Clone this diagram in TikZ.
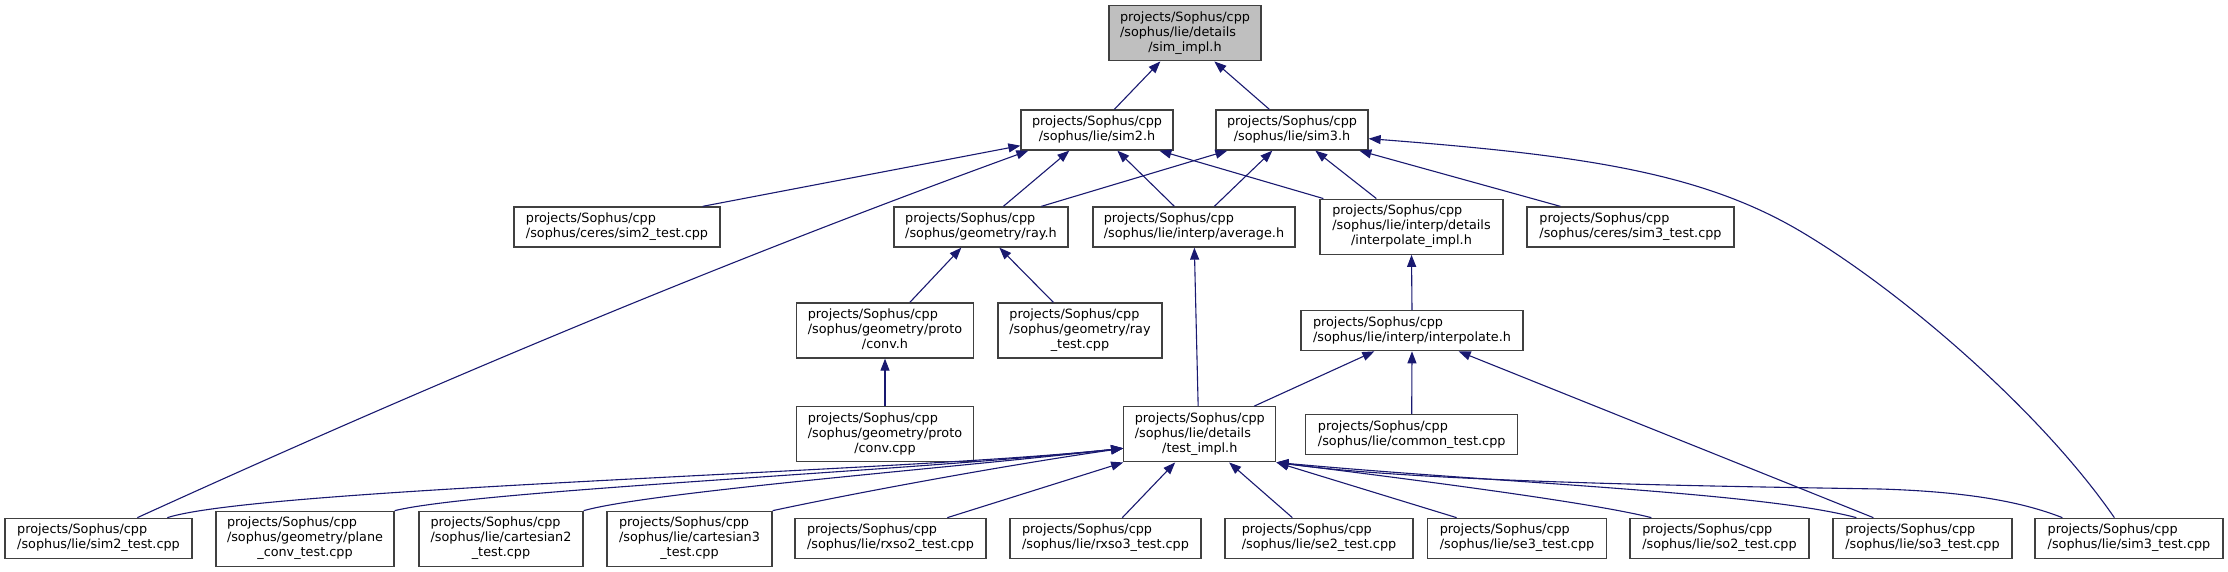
\documentclass[tikz,border=0pt]{standalone}
\usepackage{fontspec}
\setmainfont{DejaVu Sans}
\usetikzlibrary{arrows.meta}
\definecolor{edgec}{HTML}{191970}
\definecolor{boxc}{HTML}{404040}
\definecolor{rootc}{HTML}{BFBFBF}
\newcommand{\NodeTwo}[2]{\begin{tabular}{@{}l@{}}#1\\\multicolumn{1}{@{}c@{}}{#2}\end{tabular}}
\newcommand{\NodeThree}[3]{\begin{tabular}{@{}l@{}}#1\\#2\\\multicolumn{1}{@{}c@{}}{#3}\end{tabular}}
\newcommand{\SP}{projects/Sophus/cpp}
\newcommand{\U}{\textunderscore}
\begin{document}
\begin{tikzpicture}[x=1pt,y=-1pt,
  box/.style={draw=boxc, line width=1.3pt, fill=white, inner sep=0pt, minimum height=40pt,
    font=\fontsize{12.8}{15}\selectfont, align=center},
  boxthree/.style={box, minimum height=55pt},
  edge/.style={draw=edgec, line width=1.1pt, -{Triangle[length=12pt,width=9pt]}}]
\useasboundingbox (0,0) rectangle (2228,572);
% row 0
\node[boxthree, fill=rootc, minimum width=152pt] (root) at (1185,33.3) {\NodeThree{\SP}{/sophus/lie/details}{/sim\U impl.h}};
% row 1
\node[box, minimum width=152pt] (sim2) at (1097,130) {\NodeTwo{\SP}{/sophus/lie/sim2.h}};
\node[box, minimum width=152pt] (sim3) at (1292,130) {\NodeTwo{\SP}{/sophus/lie/sim3.h}};
% row 2
\node[box, minimum width=206pt] (ceres2) at (617,227) {\NodeTwo{\SP}{/sophus/ceres/sim2\U test.cpp}};
\node[box, minimum width=174pt] (ray) at (981,227) {\NodeTwo{\SP}{/sophus/geometry/ray.h}};
\node[box, minimum width=202pt] (avg) at (1194,227) {\NodeTwo{\SP}{/sophus/lie/interp/average.h}};
\node[boxthree, minimum width=183pt] (iimpl) at (1411.5,226.7) {\NodeThree{\SP}{/sophus/lie/interp/details}{/interpolate\U impl.h}};
\node[box, minimum width=207pt] (ceres3) at (1630.5,227) {\NodeTwo{\SP}{/sophus/ceres/sim3\U test.cpp}};
% row 3
\node[boxthree, minimum width=177pt] (convh) at (885,330.5) {\NodeThree{\SP}{/sophus/geometry/proto}{/conv.h}};
\node[boxthree, minimum width=164pt] (raytest) at (1080,330.5) {\NodeThree{\SP}{/sophus/geometry/ray}{\U test.cpp}};
\node[box, minimum width=222pt] (interp) at (1412,330.7) {\NodeTwo{\SP}{/sophus/lie/interp/interpolate.h}};
% row 4
\node[boxthree, minimum width=177pt] (convcpp) at (885,434.3) {\NodeThree{\SP}{/sophus/geometry/proto}{/conv.cpp}};
\node[boxthree, minimum width=152pt] (timpl) at (1199.8,434.3) {\NodeThree{\SP}{/sophus/lie/details}{/test\U impl.h}};
\node[box, minimum width=212pt] (common) at (1411.7,434.5) {\NodeTwo{\SP}{/sophus/lie/common\U test.cpp}};
% row 5
\node[box, minimum width=187pt] (sim2test) at (98.5,538.3) {\NodeTwo{\SP}{/sophus/lie/sim2\U test.cpp}};
\node[boxthree, minimum width=178pt] (plane) at (305,538.8) {\NodeThree{\SP}{/sophus/geometry/plane}{\U conv\U test.cpp}};
\node[boxthree, minimum width=164pt] (cart2) at (501,538.8) {\NodeThree{\SP}{/sophus/lie/cartesian2}{\U test.cpp}};
\node[boxthree, minimum width=165pt] (cart3) at (689.5,538.8) {\NodeThree{\SP}{/sophus/lie/cartesian3}{\U test.cpp}};
\node[box, minimum width=191pt] (rxso2) at (890.5,538.3) {\NodeTwo{\SP}{/sophus/lie/rxso2\U test.cpp}};
\node[box, minimum width=191pt] (rxso3) at (1105.5,538.3) {\NodeTwo{\SP}{/sophus/lie/rxso3\U test.cpp}};
\node[box, minimum width=188pt] (se2) at (1319,538.3) {\NodeTwo{\SP}{/sophus/lie/se2\U test.cpp}};
\node[box, minimum width=179.5pt] (se3) at (1517,538.3) {\NodeTwo{\SP}{/sophus/lie/se3\U test.cpp}};
\node[box, minimum width=179pt] (so2) at (1719.5,538.3) {\NodeTwo{\SP}{/sophus/lie/so2\U test.cpp}};
\node[box, minimum width=179pt] (so3) at (1922.5,538.3) {\NodeTwo{\SP}{/sophus/lie/so3\U test.cpp}};
\node[box, minimum width=188pt] (sim3test) at (2129,538.3) {\NodeTwo{\SP}{/sophus/lie/sim3\U test.cpp}};
% edges
\draw[edge] ([xshift=94pt]sim2.north west) -- ([xshift=52pt]root.south west);
\draw[edge] ([xshift=54pt]sim3.north west) -- ([xshift=106pt]root.south west);
\draw[edge] ([xshift=-18pt]ceres2.north east) -- ([yshift=5pt]sim2.south west);
\draw[edge] ([xshift=133pt]sim2test.north west) .. controls (400,398) and (700,270) .. ([xshift=8pt]sim2.south west);
\draw[edge] ([xshift=110pt]ray.north west) -- ([xshift=49pt]sim2.south west);
\draw[edge] ([xshift=82pt]avg.north west) -- ([xshift=97pt]sim2.south west);
\draw[edge] ([xshift=4pt]iimpl.north west) -- ([xshift=139pt]sim2.south west);
\draw[edge] ([xshift=148pt]ray.north west) -- ([xshift=12pt]sim3.south west);
\draw[edge] ([xshift=122pt]avg.north west) -- ([xshift=57pt]sim3.south west);
\draw[edge] ([xshift=57pt]iimpl.north west) -- ([xshift=100pt]sim3.south west);
\draw[edge] ([xshift=34pt]ceres3.north west) -- ([xshift=144pt]sim3.south west);
\draw[edge] ([xshift=80pt]sim3test.north west) .. controls (2040,410) and (1900,290) .. (1800,231) .. controls (1700,172) and (1580,155) .. ([yshift=12pt]sim3.south east);
\draw[edge] ([xshift=114pt]convh.north west) -- ([xshift=68pt]ray.south west);
\draw[edge] ([xshift=56pt]raytest.north west) -- ([xshift=106pt]ray.south west);
\draw[edge] ([xshift=75pt]timpl.north west) -- ([xshift=102pt]avg.south west);
\draw[edge] (interp.north) -- (iimpl.south);
\draw[edge] (convcpp.north) -- (convh.south);
\draw[edge] ([xshift=131pt]timpl.north west) -- ([xshift=74pt]interp.south west);
\draw[edge] (common.north) -- (interp.south);
\draw[edge] ([xshift=41pt]so3.north west) -- ([xshift=-65pt]interp.south east);
\draw[edge] ([xshift=163pt]sim2test.north west) .. controls (260,488) and (900,472) .. ([yshift=-14pt]timpl.west);
\draw[edge] (plane.north east) .. controls (480,490) and (900,472) .. ([yshift=-14pt]timpl.west);
\draw[edge] (cart2.north east) .. controls (650,492) and (950,468) .. ([yshift=-14pt]timpl.west);
\draw[edge] (cart3.north east) .. controls (850,494) and (1000,466) .. ([yshift=-14pt]timpl.west);
\draw[edge] ([xshift=153pt]rxso2.north west) -- (timpl.south west);
\draw[edge] ([xshift=113pt]rxso3.north west) -- ([xshift=52pt]timpl.south west);
\draw[edge] ([xshift=68pt]se2.north west) -- ([xshift=106pt]timpl.south west);
\draw[edge] ([xshift=30pt]se3.north west) -- (timpl.south east);
\draw[edge] ([xshift=22pt]so2.north west) .. controls (1590,502) and (1400,478) .. (timpl.south east);
\draw[edge] ([xshift=24pt]so3.north west) .. controls (1760,492) and (1500,483) .. (timpl.south east);
\draw[edge] ([xshift=28pt]sim3test.north west) .. controls (2030,505) and (1980,492) .. (1880,489) .. controls (1700,486) and (1420,482) .. (timpl.south east);
\end{tikzpicture}
\end{document}
